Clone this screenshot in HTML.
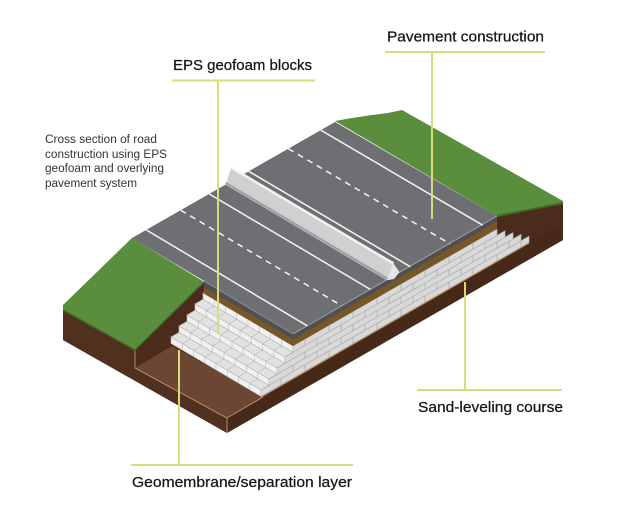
<!DOCTYPE html>
<html><head><meta charset="utf-8"><style>
html,body{margin:0;padding:0;background:#fff;}
svg{display:block;}
</style></head><body>
<svg width="639" height="530" viewBox="0 0 639 530" xmlns="http://www.w3.org/2000/svg">
<rect width="639" height="530" fill="#fff"/>

<!-- brown backdrop -->
<polygon points="63,306 132,238 204,282 497,216 563,203 563,240 227,433 63,340" fill="#4b2c1c"/>
<!-- front-right brown face -->
<polygon points="227,418 563,224 563,240 227,433" fill="#47291a"/>
<!-- left front brown face -->
<polygon points="63,310 135,350 135,368 227,418 227,433 63,340" fill="#50301f"/>
<!-- floor -->
<polygon points="135,368 227,418 263,397 172,346" fill="#6b4733"/>
<!-- tan edges -->
<polyline points="135,350 135,368 227,418 227,433" fill="none" stroke="#c9a47e" stroke-width="1" opacity="0.8"/>
<line x1="227" y1="418" x2="263" y2="397" stroke="#c9a47e" stroke-width="1" opacity="0.8"/>

<!-- left green -->
<polygon points="63,305 132,238 204,282 135,350 63,310" fill="#5a8e3c"/>
<polyline points="63,310 135,350 204,282" fill="none" stroke="#3e6a2a" stroke-width="1.5"/>
<!-- right green -->
<polygon points="335,121 352,118 372,115 388,113 402,110 563,201 563,204 497,216" fill="#5a8e3c"/>
<line x1="497" y1="216" x2="563" y2="203" stroke="#3e6a2a" stroke-width="2"/>

<!-- blocks: risers (left stepped side) -->
<g fill="#f1f1f1" stroke="#b9b9b9">
<g transform="matrix(11.25,6.625,0,6.4,203,293)"><rect x="0" y="0" width="8" height="1" vector-effect="non-scaling-stroke" stroke-width="0.6"/><path d="M1 0V1M2 0V1M3 0V1M4 0V1M5 0V1M6 0V1M7 0V1" vector-effect="non-scaling-stroke" stroke-width="0.6"/></g>
<g transform="matrix(11.25,6.625,0,6.4,195,304)"><rect x="0" y="0" width="8" height="1" vector-effect="non-scaling-stroke" stroke-width="0.6"/><path d="M1 0V1M2 0V1M3 0V1M4 0V1M5 0V1M6 0V1M7 0V1" vector-effect="non-scaling-stroke" stroke-width="0.6"/></g>
<g transform="matrix(11.25,6.625,0,6.4,187,315)"><rect x="0" y="0" width="8" height="1" vector-effect="non-scaling-stroke" stroke-width="0.6"/><path d="M1 0V1M2 0V1M3 0V1M4 0V1M5 0V1M6 0V1M7 0V1" vector-effect="non-scaling-stroke" stroke-width="0.6"/></g>
<g transform="matrix(11.25,6.625,0,6.4,179,326)"><rect x="0" y="0" width="8" height="1" vector-effect="non-scaling-stroke" stroke-width="0.6"/><path d="M1 0V1M2 0V1M3 0V1M4 0V1M5 0V1M6 0V1M7 0V1" vector-effect="non-scaling-stroke" stroke-width="0.6"/></g>
<g transform="matrix(11.25,6.625,0,6.4,171,337)"><rect x="0" y="0" width="8" height="1" vector-effect="non-scaling-stroke" stroke-width="0.6"/><path d="M1 0V1M2 0V1M3 0V1M4 0V1M5 0V1M6 0V1M7 0V1" vector-effect="non-scaling-stroke" stroke-width="0.6"/></g>
</g>
<!-- treads -->
<g fill="#e2e2e3" stroke="#b3b3b3">
<g transform="matrix(11.25,6.625,-8,4.6,203,299.4)"><rect x="0" y="0" width="8" height="1" vector-effect="non-scaling-stroke" stroke-width="0.6"/><path d="M1 0V1M2 0V1M3 0V1M4 0V1M5 0V1M6 0V1M7 0V1" vector-effect="non-scaling-stroke" stroke-width="0.6"/></g>
<g transform="matrix(11.25,6.625,-8,4.6,195,310.4)"><rect x="0" y="0" width="8" height="1" vector-effect="non-scaling-stroke" stroke-width="0.6"/><path d="M1 0V1M2 0V1M3 0V1M4 0V1M5 0V1M6 0V1M7 0V1" vector-effect="non-scaling-stroke" stroke-width="0.6"/></g>
<g transform="matrix(11.25,6.625,-8,4.6,187,321.4)"><rect x="0" y="0" width="8" height="1" vector-effect="non-scaling-stroke" stroke-width="0.6"/><path d="M1 0V1M2 0V1M3 0V1M4 0V1M5 0V1M6 0V1M7 0V1" vector-effect="non-scaling-stroke" stroke-width="0.6"/></g>
<g transform="matrix(11.25,6.625,-8,4.6,179,332.4)"><rect x="0" y="0" width="8" height="1" vector-effect="non-scaling-stroke" stroke-width="0.6"/><path d="M1 0V1M2 0V1M3 0V1M4 0V1M5 0V1M6 0V1M7 0V1" vector-effect="non-scaling-stroke" stroke-width="0.6"/></g>
</g>
<!-- front brick face -->
<g transform="matrix(1,-0.5735,0,6.4,293,346)">
<polygon points="0,0 0,1 -8,1 -8,2 -16,2 -16,3 -24,3 -24,4 -32,4 -32,5 236,5 236,4 228,4 228,3 220,3 220,2 212,2 212,1 204,1 204,0" fill="#d9d9da" stroke="#bdbdbd" vector-effect="non-scaling-stroke" stroke-width="0.6"/>
<path d="M-8 1H212M-16 2H220M-24 3H228M-32 4H236" fill="none" stroke="#a9a9aa" vector-effect="non-scaling-stroke" stroke-width="0.7"/>
<path d="M12 0V1M36 0V1M60 0V1M84 0V1M108 0V1M132 0V1M156 0V1M180 0V1
M24 1V2M48 1V2M72 1V2M96 1V2M120 1V2M144 1V2M168 1V2M192 1V2
M12 2V3M36 2V3M60 2V3M84 2V3M108 2V3M132 2V3M156 2V3M180 2V3M204 2V3
M0 3V4M24 3V4M48 3V4M72 3V4M96 3V4M120 3V4M144 3V4M168 3V4M192 3V4M216 3V4
M-12 4V5M12 4V5M36 4V5M60 4V5M84 4V5M108 4V5M132 4V5M156 4V5M180 4V5M204 4V5M228 4V5" fill="none" stroke="#a9a9aa" vector-effect="non-scaling-stroke" stroke-width="0.7"/>
</g>
<line x1="261" y1="397" x2="529" y2="243" stroke="#b8936a" stroke-width="1.2"/>

<!-- sand layer -->
<polygon points="204,287 293,339 497,221 497,229 293,346 203,293" fill="#775728"/>
<!-- slab side -->
<polygon points="204,281 293,334 497,216 497,221 293,339 204,287" fill="#4f5054"/>
<!-- road surface -->
<polygon points="132,238 335,122 497,216 293,334" fill="#6e6f72"/>
<line x1="293" y1="334" x2="497" y2="216" stroke="#a2a3a6" stroke-width="1"/>
<line x1="204" y1="281" x2="293" y2="334" stroke="#8e8f92" stroke-width="1"/>

<!-- road markings -->
<g stroke="#f4f4f4" stroke-width="1.5" fill="none">
<line x1="146.2" y1="229.9" x2="307.3" y2="325.8"/>
<line x1="209.1" y1="193.9" x2="370.5" y2="289.5"/>
<line x1="248.7" y1="171.3" x2="410.3" y2="266.7"/>
<line x1="320.8" y1="130.1" x2="482.7" y2="225.2"/>
<line x1="180.7" y1="210.2" x2="342" y2="305.9" stroke-dasharray="6 5"/>
<line x1="288.3" y1="148.7" x2="450.1" y2="243.9" stroke-dasharray="6 5"/>
</g>

<!-- median barrier -->
<polygon points="231.5,167.2 238.5,176.7 399.5,272.2 393,262.7" fill="#a9aaad"/>
<polygon points="225.4,184.6 231.5,167.2 393,262.7 386.8,280.2" fill="#cfd0d2"/>
<line x1="225.8" y1="183" x2="387.3" y2="278.6" stroke="#9c9da0" stroke-width="2"/>
<line x1="232" y1="168" x2="393.5" y2="263.5" stroke="#f3f3f3" stroke-width="2.5"/>
<polygon points="386.8,280.2 393,262.7 399.5,272.2 394,279" fill="#e6e6e7"/>

<!-- leader lines -->
<g stroke="#d7db7a" stroke-width="2" fill="none">
<line x1="172" y1="80.5" x2="315" y2="80.5"/>
<line x1="218" y1="80" x2="218" y2="333"/>
<line x1="385" y1="52" x2="545" y2="52"/>
<line x1="432" y1="52" x2="432" y2="219"/>
<line x1="417" y1="390" x2="562" y2="390"/>
<line x1="465" y1="282" x2="465" y2="390"/>
<line x1="131" y1="465" x2="353" y2="465"/>
<line x1="179" y1="350" x2="179" y2="465"/>
</g>

<!-- labels -->
<g font-family="'Liberation Sans', Arial, sans-serif" font-size="15" fill="#151515" stroke="#151515" stroke-width="0.25">
<text x="173" y="70" textLength="139" lengthAdjust="spacingAndGlyphs">EPS geofoam blocks</text>
<text x="387" y="41.5" textLength="157" lengthAdjust="spacingAndGlyphs">Pavement construction</text>
<text x="418" y="412" textLength="145" lengthAdjust="spacingAndGlyphs">Sand-leveling course</text>
<text x="132" y="487" textLength="220" lengthAdjust="spacingAndGlyphs">Geomembrane/separation layer</text>
</g>
<g font-family="'Liberation Sans', Arial, sans-serif" font-size="11.5" fill="#333">
<text x="45" y="143" textLength="112" lengthAdjust="spacingAndGlyphs">Cross section of road</text>
<text x="45" y="158" textLength="122" lengthAdjust="spacingAndGlyphs">construction using EPS</text>
<text x="45" y="172" textLength="119" lengthAdjust="spacingAndGlyphs">geofoam and overlying</text>
<text x="45" y="187" textLength="92" lengthAdjust="spacingAndGlyphs">pavement system</text>
</g>
</svg>
</body></html>
